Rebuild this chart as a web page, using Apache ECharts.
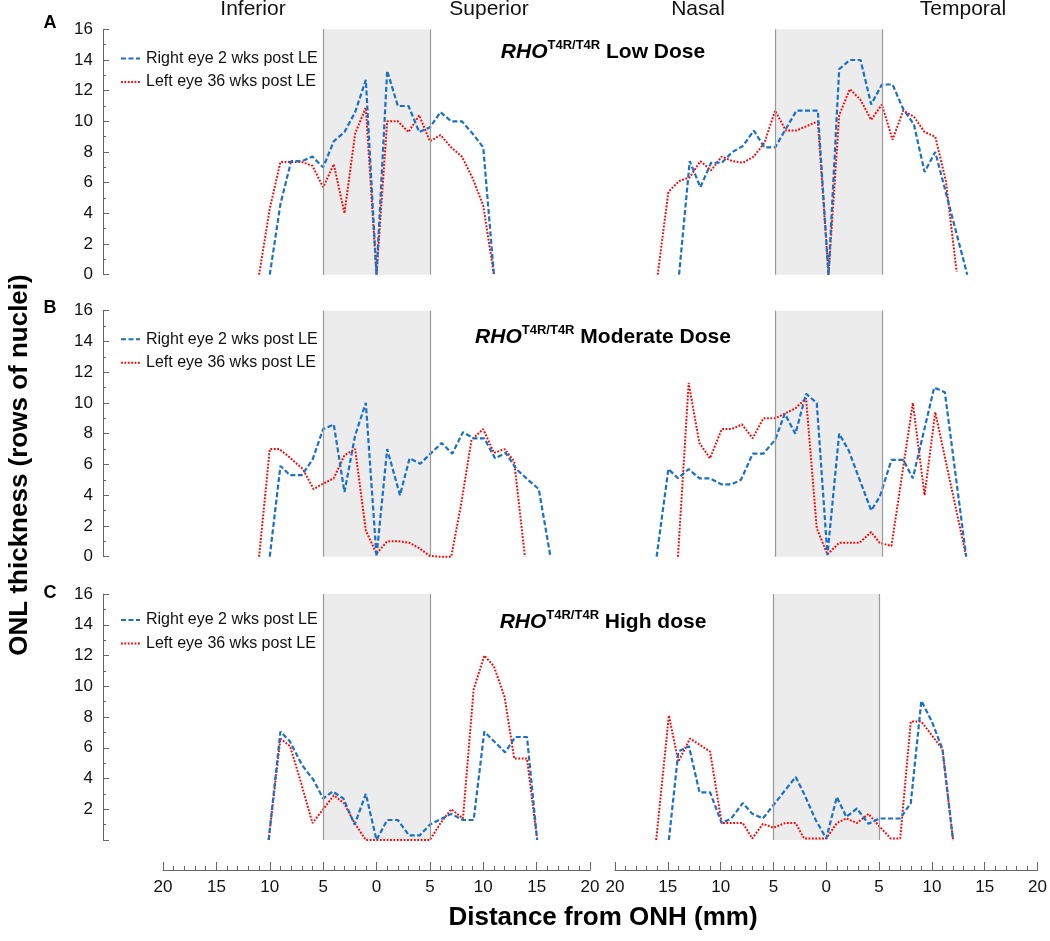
<!DOCTYPE html>
<html>
<head>
<meta charset="utf-8">
<script src="https://cdn.jsdelivr.net/npm/echarts@6/dist/echarts.min.js"></script>
<style>
html,body{margin:0;padding:0;background:#fff;}
#chart{width:1050px;height:941px;}
</style>
</head>
<body>
<div id="chart"></div>
<script>
// ---------- data ----------
const seriesNames = ['Right eye 2 wks post LE', 'Left eye 36 wks post LE'];
const rowTitles = ['Low Dose', 'Moderate Dose', 'High dose'];
const panelLetters = ['A', 'B', 'C'];
const sideLabels = ['Inferior', 'Superior', 'Nasal', 'Temporal'];
const xTicks = [-20, 20, 5];       // min, max, step (labels shown as distance)
const yTicks = [0, 16, 2];

// Row A (low dose)
const lowRightInfSup = [[-10,0],[-9,4.6],[-8,7.4],[-7,7.4],[-6,7.7],[-5,7.0],[-4,8.7],[-3,9.3],[-2,10.6],[-1,12.7],[0,0],[1,13.3],[2,11.0],[3,11.0],[4,9.3],[5,9.6],[6,10.6],[7,10.0],[8,10.0],[9,9.2],[10,8.3],[11,0]];
const lowLeftInfSup = [[-11,0],[-10,4.3],[-9,7.35],[-8,7.35],[-7,7.35],[-6,7.1],[-5,5.7],[-4,7.2],[-3,4.0],[-2,9.2],[-1,10.9],[0,0],[1,10.0],[2,10.0],[3,9.3],[4,10.4],[5,8.7],[6,9.1],[7,8.3],[8,7.7],[9,6.3],[10,4.5],[11,0]];
const lowRightNasTemp = [[-14,0],[-13,7.4],[-12,5.7],[-11,7.3],[-10,7.3],[-9,8.0],[-8,8.4],[-7,9.4],[-6,8.3],[-5,8.3],[-4,9.5],[-3,10.7],[-2,10.7],[-1,10.7],[0,0],[1,13.4],[2,14.0],[3,14.0],[4,11.1],[5,12.4],[6,12.4],[7,10.8],[8,9.8],[9,6.7],[10,8.0],[13,0]];
const lowLeftNasTemp = [[-16,0],[-15,5.4],[-14,6.1],[-13,6.35],[-12,7.4],[-11,6.8],[-10,7.7],[-9,7.4],[-8,7.3],[-7,7.7],[-6,8.6],[-5,10.7],[-4,9.4],[-3,9.4],[-2,9.7],[-1,10.0],[0,0],[1,10.4],[2,12.1],[3,11.4],[4,10.1],[5,11.1],[6,8.8],[7,10.7],[8,10.3],[9,9.3],[10,9.0],[11,6.1],[12,0.2]];

// Row B (moderate dose)
const modRightInfSup = [[-10,0],[-9,5.9],[-8.1,5.3],[-7,5.3],[-6,6.3],[-5,8.3],[-4,8.6],[-3,4.2],[-2,7.9],[-1,10.0],[0,0],[1,7.0],[2.2,4.0],[3.1,6.4],[4.1,6.05],[6.1,7.4],[7.1,6.7],[8.1,8.1],[9.1,7.7],[10.1,7.7],[11.1,6.4],[12.1,6.75],[13.1,5.7],[14.2,5.0],[15.2,4.4],[16.3,0]];
const modLeftInfSup = [[-11,0],[-10,7.0],[-9.1,7.0],[-8.2,6.5],[-6.9,5.7],[-5.9,4.4],[-5,4.75],[-4,5.1],[-3,6.6],[-2,7.0],[-1,1.7],[0,0.2],[1,1.0],[2.1,1.0],[3.1,0.9],[4,0.55],[5,0.05],[5.9,0],[7,0],[7.9,3.3],[8.9,7.6],[10,8.3],[11,6.75],[12,7.0],[12.9,6.2],[13.9,0]];
const modRightNasTemp = [[-16.1,0],[-15,5.7],[-14.1,5.1],[-13.1,5.7],[-12.1,5.1],[-11.1,5.1],[-10,4.7],[-9.1,4.7],[-8.2,5.0],[-7.1,6.7],[-6.1,6.7],[-5,7.6],[-4.1,9.3],[-3.1,8.0],[-2.1,10.6],[-1.1,10.0],[-0.1,0.1],[1,8.0],[1.9,6.9],[4,3.0],[4.8,3.9],[5.9,6.3],[7,6.3],[7.9,5.1],[9.9,11.0],[10.9,10.7],[12.9,0]];
const modLeftNasTemp = [[-14.1,0],[-13.1,11.3],[-12.1,7.4],[-11.1,6.4],[-10,8.3],[-9.1,8.3],[-8.1,8.6],[-7.1,7.7],[-6.1,9.0],[-5,9.0],[-4.1,9.3],[-3.1,9.65],[-2.1,10.3],[-1.1,1.85],[-0.1,0.15],[1,0.9],[1.9,0.9],[2.9,0.9],[4,1.6],[4.8,0.9],[5.9,0.7],[7.9,10.0],[9,4.0],[10,9.4],[12.9,0]];

// Row C (high dose)
const highRightInfSup = [[-10.1,0],[-9,7.05],[-8.1,6.4],[-7,4.9],[-5.9,3.9],[-5,2.7],[-4.1,3.15],[-3.1,2.7],[-2.05,1.0],[-1,3.0],[0,0],[1,1.3],[2,1.3],[3.05,0.3],[4.05,0.3],[5,1.0],[6,1.35],[7,1.7],[8.1,1.3],[9.1,1.3],[10.1,7.05],[12.05,5.7],[13,6.7],[14.1,6.7],[15.05,0]];
const highLeftInfSup = [[-10.1,0],[-9,6.6],[-8.1,6.1],[-7.1,3.8],[-6,1.1],[-5,2.0],[-4,2.9],[-3.05,2.4],[-2.05,1.1],[-1,0],[0,0],[1,0],[2,0],[3,0],[4,0],[5,0],[6,1.1],[7,2.0],[8.1,1.4],[9.1,9.8],[10.1,12.0],[11,11.3],[12,9.3],[12.9,5.3],[14.1,5.3],[15.05,0]];
const highRightNasTemp = [[-14.9,0],[-14,5.75],[-13,6.1],[-12,3.1],[-11,3.1],[-9.9,1.1],[-9,1.4],[-7.9,2.4],[-7,1.7],[-6,1.4],[-2.9,4.1],[-2.1,3.0],[-1,1.3],[0,0.1],[1,2.8],[1.9,1.5],[2.9,2.05],[4,1.05],[5,1.4],[7,1.4],[8,2.4],[9,9.05],[10,7.7],[11,5.9],[12,0]];
const highLeftNasTemp = [[-16.1,0],[-14.9,8.1],[-14,5.1],[-12.9,6.6],[-12,6.2],[-11,5.75],[-9.9,1.1],[-7.9,1.1],[-7,0.1],[-6,1.05],[-5,0.8],[-3.9,1.1],[-2.9,1.1],[-2.1,0.1],[0,0.1],[1,1.1],[1.9,1.4],[2.9,1.1],[4,1.7],[5,0.9],[6.1,0.1],[7,0.1],[8,7.7],[9,7.7],[10,6.8],[11,5.9],[12,0]];

const shadedRange = [-5, 5];

// ---------- layout ----------
const panels = [
  [lowRightInfSup, lowLeftInfSup], [lowRightNasTemp, lowLeftNasTemp],
  [modRightInfSup, modLeftInfSup], [modRightNasTemp, modLeftNasTemp],
  [highRightInfSup, highLeftInfSup], [highRightNasTemp, highLeftNasTemp]
];
const rowTop = [29.3, 310.7, 594];
const rowH = [245.4, 246, 246];
const colLeft = [163, 615];
const plotW = 427;
const blue = '#1a70c4', red = '#ff0000';
const axisCol = '#666';
const FONT = 'Liberation Sans, Arial, sans-serif';

const grids = [], xAxes = [], yAxes = [], series = [], legends = [], titles = [], graphics = [];
for (let r = 0; r < 3; r++) {
  for (let c = 0; c < 2; c++) {
    const gi = r * 2 + c;
    grids.push({ left: colLeft[c], top: rowTop[r], width: plotW, height: rowH[r] });
    const bottomRow = r === 2;
    xAxes.push({
      gridIndex: gi, type: 'value', min: xTicks[0], max: xTicks[1], interval: xTicks[2],
      show: bottomRow, position: 'bottom', offset: 30,
      axisLine: { show: true, onZero: false, lineStyle: { color: axisCol, width: 1 } },
      axisTick: { show: true, inside: true, length: 8, lineStyle: { color: axisCol } },
      minorTick: { show: true, splitNumber: 5, length: 4, lineStyle: { color: axisCol } },
      axisLabel: { formatter: v => String(Math.abs(v)), fontSize: 17, color: '#111', margin: 9, fontFamily: FONT },
      splitLine: { show: false }, minorSplitLine: { show: false }
    });
    yAxes.push({
      gridIndex: gi, type: 'value', min: yTicks[0], max: yTicks[1], interval: yTicks[2],
      show: c === 0, position: 'left', offset: 60,
      axisLine: { show: true, onZero: false, lineStyle: { color: axisCol, width: 1 } },
      axisTick: { show: true, inside: true, length: 6, lineStyle: { color: axisCol } },
      minorTick: { show: true, splitNumber: 2, length: 3, lineStyle: { color: axisCol } },
      axisLabel: { fontSize: 17, color: '#111', margin: 10, fontFamily: FONT, showMinLabel: r !== 2 },
      splitLine: { show: false }, minorSplitLine: { show: false }
    });
    // shaded optic-nerve region
    series.push({
      type: 'line', xAxisIndex: gi, yAxisIndex: gi, data: [], z: 1, silent: true,
      markArea: { silent: true, label: { show: false }, itemStyle: { color: '#ececec', borderWidth: 0 },
        data: [[{ coord: [shadedRange[0], yTicks[0]] }, { coord: [shadedRange[1], yTicks[1]] }]] },
      markLine: { silent: true, symbol: 'none', label: { show: false },
        lineStyle: { color: '#9a9a9a', width: 1.2, type: 'solid' },
        data: [[{ coord: [shadedRange[0], yTicks[0]] }, { coord: [shadedRange[0], yTicks[1]] }],
               [{ coord: [shadedRange[1], yTicks[0]] }, { coord: [shadedRange[1], yTicks[1]] }]] }
    });
    series.push({
      name: seriesNames[0], type: 'line', xAxisIndex: gi, yAxisIndex: gi, data: panels[gi][0],
      symbol: 'none', clip: false, z: 4, animation: false,
      lineStyle: { color: blue, width: 2.2, type: [5, 2.5] }, itemStyle: { color: blue }
    });
    series.push({
      name: seriesNames[1], type: 'line', xAxisIndex: gi, yAxisIndex: gi, data: panels[gi][1],
      symbol: 'none', clip: false, z: 3, animation: false,
      lineStyle: { color: red, width: 2, type: [1.8, 1.6] }, itemStyle: { color: red }
    });
  }
  const legendTop = [50.5, 331.3, 612][r];
  legends.push({
    data: seriesNames, orient: 'vertical', left: 120, top: legendTop, padding: 0,
    itemWidth: 19, itemHeight: 14, itemGap: 7.5, selectedMode: false,
    itemStyle: { opacity: 0 },
    textStyle: { fontSize: 16, color: '#111', fontFamily: FONT, padding: [0, 0, 0, 1] }
  });
  const titleTop = [39, 324, 609][r];
  titles.push({
    text: '{r|RHO}{s|T4R/T4R}{t| ' + rowTitles[r] + '}',
    left: 603, top: titleTop, textAlign: 'center', padding: 0,
    textStyle: {
      fontFamily: FONT,
      rich: {
        r: { fontSize: 21, fontWeight: 'bold', fontStyle: 'italic', lineHeight: 26, color: '#000', fontFamily: FONT },
        s: { fontSize: 13, fontWeight: 'bold', verticalAlign: 'top', lineHeight: 16, color: '#000', fontFamily: FONT },
        t: { fontSize: 21, fontWeight: 'bold', lineHeight: 26, color: '#000', fontFamily: FONT }
      }
    }
  });
  graphics.push({
    type: 'text', x: 50, y: [23, 308, 593][r],
    style: { text: panelLetters[r], font: 'bold 18px ' + FONT, fill: '#000', textAlign: 'center', textVerticalAlign: 'middle' }
  });
}
const sideX = [253, 489, 698, 963];
sideLabels.forEach((s, i) => graphics.push({
  type: 'text', x: sideX[i], y: 9,
  style: { text: s, font: '21px ' + FONT, fill: '#111', textAlign: 'center', textVerticalAlign: 'middle' }
}));
graphics.push({
  type: 'text', x: 20, y: 465, rotation: Math.PI / 2,
  style: { text: 'ONL thickness (rows of nuclei)', font: 'bold 26px ' + FONT, fill: '#000', textAlign: 'center', textVerticalAlign: 'middle' }
});
graphics.push({
  type: 'text', x: 603, y: 918,
  style: { text: 'Distance from ONH (mm)', font: 'bold 26px ' + FONT, fill: '#000', textAlign: 'center', textVerticalAlign: 'middle' }
});

const chart = echarts.init(document.getElementById('chart'), null, { renderer: 'canvas' });
chart.setOption({
  animation: false,
  backgroundColor: '#fff',
  textStyle: { fontFamily: FONT },
  title: titles, legend: legends, grid: grids, xAxis: xAxes, yAxis: yAxes,
  series: series, graphic: graphics
});
</script>
</body>
</html>
